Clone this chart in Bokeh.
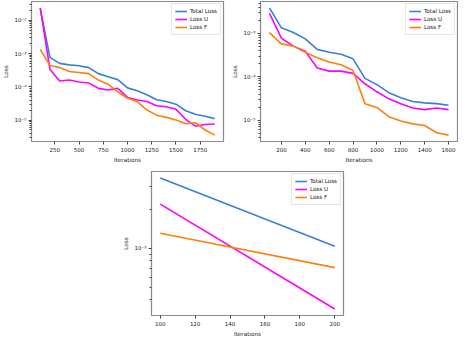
import math
from bokeh.plotting import figure
from bokeh.layouts import column, row
from bokeh.models import FixedTicker, CustomJSTickFormatter, Range1d, Legend, LegendItem, Spacer
from bokeh.embed import file_html
from bokeh.resources import INLINE

# ---- data ----
iters_a = [100, 200, 300, 400, 500, 600, 700, 800, 900, 1000, 1100, 1200, 1300, 1400, 1500, 1600, 1700, 1800, 1900]
total_a = [2.3e-2, 7.7e-4, 5.1e-4, 4.6e-4, 4.3e-4, 3.8e-4, 2.5e-4, 2.0e-4, 1.65e-4, 9.3e-5, 7.6e-5, 5.8e-5,
           4.1e-5, 3.6e-5, 3.0e-5, 1.9e-5, 1.5e-5, 1.3e-5, 1.1e-5]
lossu_a = [2.4e-2, 3.4e-4, 1.5e-4, 1.6e-4, 1.4e-4, 1.3e-4, 9.0e-5, 8.0e-5, 9.0e-5, 4.8e-5, 4.0e-5, 3.6e-5,
           2.7e-5, 2.5e-5, 2.1e-5, 1.05e-5, 6.5e-6, 7.3e-6, 7.6e-6]
lossf_a = [1.35e-3, 4.4e-4, 3.8e-4, 2.9e-4, 2.7e-4, 2.5e-4, 1.6e-4, 1.2e-4, 7.1e-5, 4.5e-5, 3.6e-5, 2.0e-5,
           1.4e-5, 1.2e-5, 1.0e-5, 7.7e-6, 8.3e-6, 5.0e-6, 3.5e-6]
xticks_a = [250, 500, 750, 1000, 1250, 1500, 1750]

iters_b = [100, 200, 300, 400, 500, 600, 700, 800, 900, 1000, 1100, 1200, 1300, 1400, 1500, 1600]
total_b = [3.9e-3, 1.35e-3, 1.05e-3, 7.5e-4, 4.3e-4, 3.7e-4, 3.3e-4, 2.6e-4, 9.2e-5, 6.6e-5, 4.3e-5, 3.3e-5,
           2.7e-5, 2.5e-5, 2.4e-5, 2.2e-5]
lossu_b = [2.9e-3, 7.8e-4, 5.1e-4, 3.9e-4, 1.6e-4, 1.35e-4, 1.35e-4, 1.2e-4, 6.9e-5, 4.5e-5, 3.1e-5, 2.4e-5,
           1.9e-5, 1.75e-5, 1.9e-5, 1.75e-5]
lossf_b = [1.05e-3, 5.75e-4, 5.1e-4, 3.7e-4, 2.75e-4, 2.2e-4, 1.9e-4, 1.4e-4, 2.4e-5, 1.96e-5, 1.2e-5, 9.5e-6,
           8.2e-6, 7.5e-6, 5.1e-6, 4.5e-6]
xticks_b = [200, 400, 600, 800, 1000, 1200, 1400, 1600]

iters_c = [100, 200]
total_c = [3.5e-3, 1.04e-3]
lossu_c = [2.2e-3, 3.4e-4]
lossf_c = [1.31e-3, 7.1e-4]
xticks_c = [100, 120, 140, 160, 180, 200]

series_names = ["Total Loss", "Loss U", "Loss F"]
series_colors = ["#3a7fd5", "#ff00ff", "#ff7f0e"]

FONT = "DejaVu Sans"
TXT = "#1a1a1a"
FRAME = "#8a8a8a"

SUP = CustomJSTickFormatter(code="""
const m = {'-':'\u207b','0':'\u2070','1':'\u00b9','2':'\u00b2','3':'\u00b3','4':'\u2074',
           '5':'\u2075','6':'\u2076','7':'\u2077','8':'\u2078','9':'\u2079'};
const e = Math.round(Math.log10(tick));
return '10' + String(e).split('').map(c => m[c]).join('');
""")


def make_fig(x, ys, xticks, width, height, bl, br, bt, bb):
    xmin, xmax = min(x), max(x)
    xm = 0.05 * (xmax - xmin)
    allv = [v for s in ys for v in s]
    lo, hi = math.log10(min(allv)), math.log10(max(allv))
    ym = 0.05 * (hi - lo)
    y0, y1 = 10 ** (lo - ym), 10 ** (hi + ym)

    majors, minors = [], []
    for d in range(math.floor(lo - ym) - 1, math.ceil(hi + ym) + 1):
        if y0 <= 10 ** d <= y1:
            majors.append(10 ** d)
        for k in range(2, 10):
            v = k * 10 ** d
            if y0 <= v <= y1:
                minors.append(v)

    p = figure(width=width, height=height, y_axis_type="log",
               x_range=Range1d(xmin - xm, xmax + xm), y_range=Range1d(y0, y1),
               output_backend="svg", toolbar_location=None,
               min_border_left=bl, min_border_right=br, min_border_top=bt, min_border_bottom=bb)
    p.grid.visible = False
    p.outline_line_color = FRAME
    p.outline_line_width = 1.2
    p.background_fill_color = "white"
    p.border_fill_color = "white"

    items = []
    for yv, name, col in zip(ys, series_names, series_colors):
        r = p.line(x, yv, line_color=col, line_width=1.6)
        items.append(LegendItem(label=name, renderers=[r]))

    p.xaxis.ticker = FixedTicker(ticks=xticks)
    p.yaxis.ticker = FixedTicker(ticks=majors, minor_ticks=minors)
    p.yaxis.formatter = SUP
    p.xaxis.axis_label = "Iterations"
    p.yaxis.axis_label = "Loss"
    for ax in (p.xaxis[0], p.yaxis[0]):
        ax.axis_line_color = None
        ax.major_tick_line_color = "#444444"
        ax.minor_tick_line_color = "#444444"
        ax.major_tick_out = 3
        ax.major_tick_in = 0
        ax.minor_tick_in = 0
        ax.major_label_text_font = FONT
        ax.major_label_text_font_size = "5.5px"
        ax.major_label_text_color = TXT
        ax.axis_label_text_font = FONT
        ax.axis_label_text_font_size = "5.7px"
        ax.axis_label_text_font_style = "normal"
        ax.axis_label_text_color = TXT
        ax.major_label_standoff = 2
        ax.axis_label_standoff = 2
    p.xaxis.minor_tick_out = 0
    p.yaxis.minor_tick_out = 2

    leg = Legend(items=items, location="top_right")
    leg.label_text_font = FONT
    leg.label_text_font_size = "5.6px"
    leg.label_text_color = TXT
    leg.label_height = 8
    leg.glyph_height = 8
    leg.glyph_width = 12
    leg.label_standoff = 3
    leg.spacing = 0
    leg.padding = 3
    leg.margin = 2
    leg.border_line_color = "#cccccc"
    leg.border_line_width = 1
    leg.background_fill_alpha = 0.85
    p.add_layout(leg)
    return p


p1 = make_fig(iters_a, [total_a, lossu_a, lossf_a], xticks_a, 228, 165, 24, 5, 1, 20)
p2 = make_fig(iters_b, [total_b, lossu_b, lossf_b], xticks_b, 230, 165, 32, 1, 1, 20)
p3 = make_fig(iters_c, [total_c, lossu_c, lossf_c], xticks_c, 225, 174, 24, 2, 6, 20)

layout = column(row(p1, p2), row(Spacer(width=120, height=174), p3))

open("out.html", "w").write(file_html(layout, INLINE))
